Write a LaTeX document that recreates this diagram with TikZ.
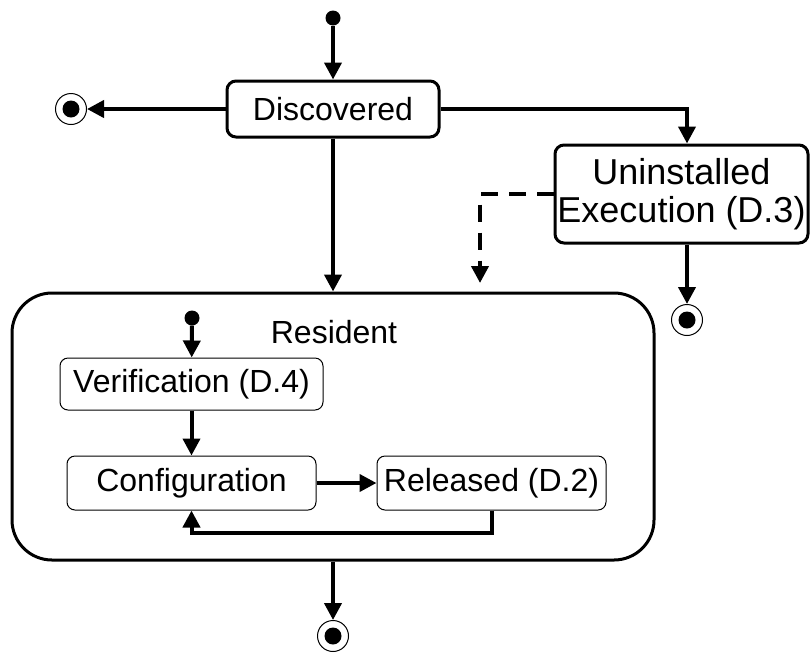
\documentclass[tikz,border=0pt]{standalone}
\usepackage{fontspec}
\setmainfont{Liberation Sans}
\usetikzlibrary{arrows.meta}

\begin{document}
\begin{tikzpicture}[x=1pt, y=-1pt,
        font=\fontsize{32}{36}\selectfont,
        state/.style={draw, rounded corners=9pt, line width=3pt, align=center, inner sep=2pt},
        substate/.style={draw, rounded corners=8pt, line width=1pt, inner sep=2pt},
        initial/.style={circle, fill, minimum size=15pt, inner sep=0pt},
        final/.style={circle, draw, line width=1pt, minimum size=31pt, inner sep=0pt,
            path picture={\fill (path picture bounding box.center) circle (8.5pt);}},
        trans/.style={line width=4pt, -{Triangle[length=17pt, width=17pt]}}]
        \useasboundingbox (0,0) rectangle (811,657);

        \node[initial] (start) at (333,18) {};
        \node[state, minimum width=212pt, minimum height=56pt] (discovered) at (333,109) {Discovered};
        \node[final] (endleft) at (71,109) {};
        \node[state, minimum width=253pt, minimum height=98pt, font=\fontsize{36}{38}\selectfont] (uninstalled) at (681.5,194) {Uninstalled\\Execution (D.3)};
        \node[final] (endright) at (687,320) {};

        \node[draw, rounded corners=40pt, line width=3pt, minimum width=642pt, minimum height=267pt] (resident) at (333,426.5) {};
        \node (residentname) at (334,332) {Resident};
        \node[initial] (subinit) at (192,318) {};
        \node[substate, minimum width=263pt, minimum height=52pt] (verification) at (191.5,384) {Verification (D.4)};
        \node[substate, minimum width=249pt, minimum height=54pt] (configuration) at (191.5,483) {Configuration};
        \node[substate, minimum width=229pt, minimum height=54pt] (released) at (491.5,483) {Released (D.2)};
        \node[final] (endbottom) at (333,636) {};

        \coordinate (dashend) at (480,283);
        \coordinate (loopcorner) at (491.5,533);

        \draw[trans] (start) -- (discovered);
        \draw[trans] (discovered) -- (endleft);
        \draw[trans] (discovered.east) -| (uninstalled.north -| endright);
        \draw[trans, dash pattern=on 17pt off 11pt] (uninstalled.west) -| (dashend);
        \draw[trans] (discovered) -- (resident);
        \draw[trans] (uninstalled.south -| endright) -- (endright);
        \draw[trans] (subinit) -- (verification);
        \draw[trans] (verification) -- (configuration);
        \draw[trans] (configuration) -- (released);
        \draw[trans] (released.south) -- (loopcorner) -| (configuration.south);
        \draw[trans] (resident) -- (endbottom);
    \end{tikzpicture}
\end{document}
